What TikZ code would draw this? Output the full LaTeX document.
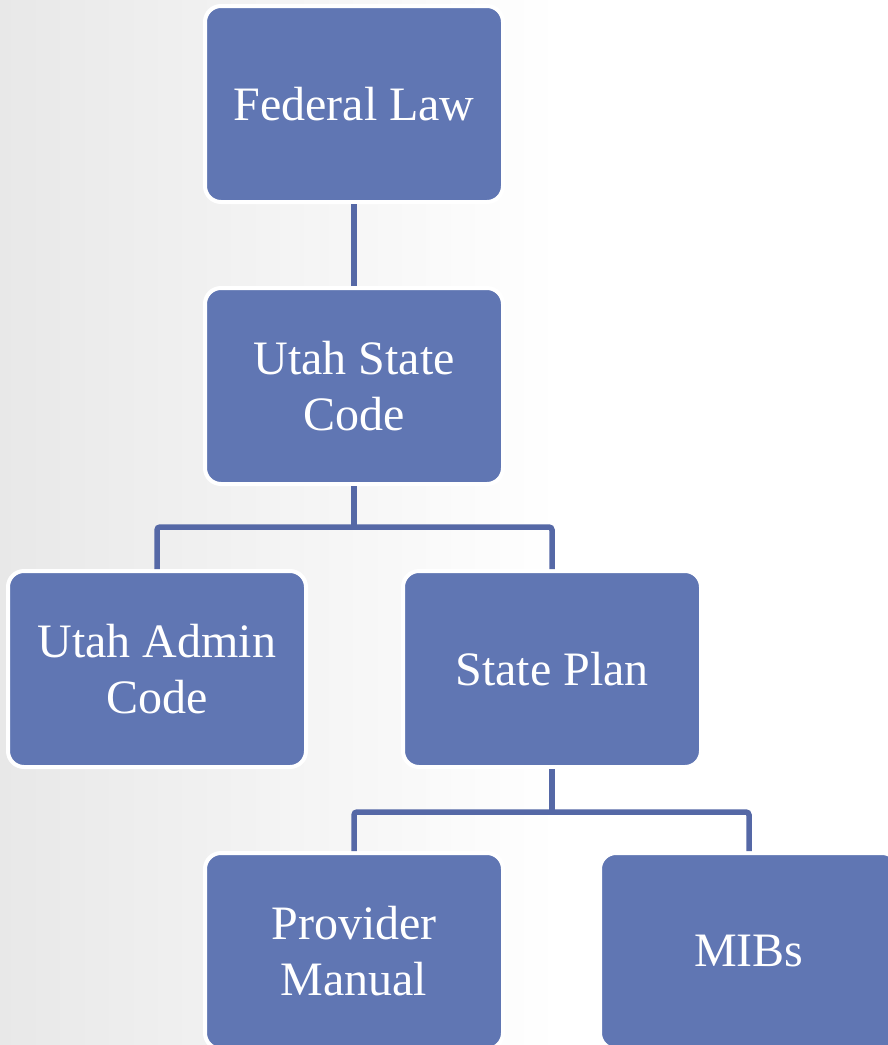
\documentclass[tikz,border=0pt]{standalone}
\usepackage{fontspec}
\setmainfont{Liberation Serif}
\definecolor{boxblue}{RGB}{96,118,179}
\definecolor{lineblue}{RGB}{85,104,166}
\tikzset{
  orgbox/.style={draw=white, line width=4pt, fill=boxblue, rounded corners=16pt,
    minimum width=298pt, minimum height=196pt, text=white, align=center,
    font=\fontsize{48}{56}\selectfont, inner sep=0pt},
  link/.style={draw=lineblue, line width=5.5pt, rounded corners=3pt}
}
\begin{document}
\begin{tikzpicture}[x=1pt,y=-1pt]
\useasboundingbox (0,0) rectangle (888,1045);
\clip (0,0) rectangle (888,1045);
\fill[white] (0,0) rectangle (888,1045);
\shade[left color=black!9, right color=white] (0,0) rectangle (560,1045);
\node[orgbox] (fl) at (354,104) {Federal Law};
\node[orgbox] (usc) at (354,386) {Utah State\\Code};
\node[orgbox] (uac) at (157,669) {Utah Admin\\Code};
\node[orgbox] (sp) at (552,669) {State Plan};
\node[orgbox] (pm) at (354,951) {Provider\\Manual};
\node[orgbox] (mib) at (749,951) {MIBs};
\coordinate (j1) at (354,527);
\coordinate (j2) at (552,812);
\draw[link] (fl.south) -- (usc.north);
\draw[link] (usc.south) -- (j1);
\draw[link] (uac.north) |- (j1) -| (sp.north);
\draw[link] (sp.south) -- (j2);
\draw[link] (pm.north) |- (j2) -| (mib.north);
\end{tikzpicture}
\end{document}
